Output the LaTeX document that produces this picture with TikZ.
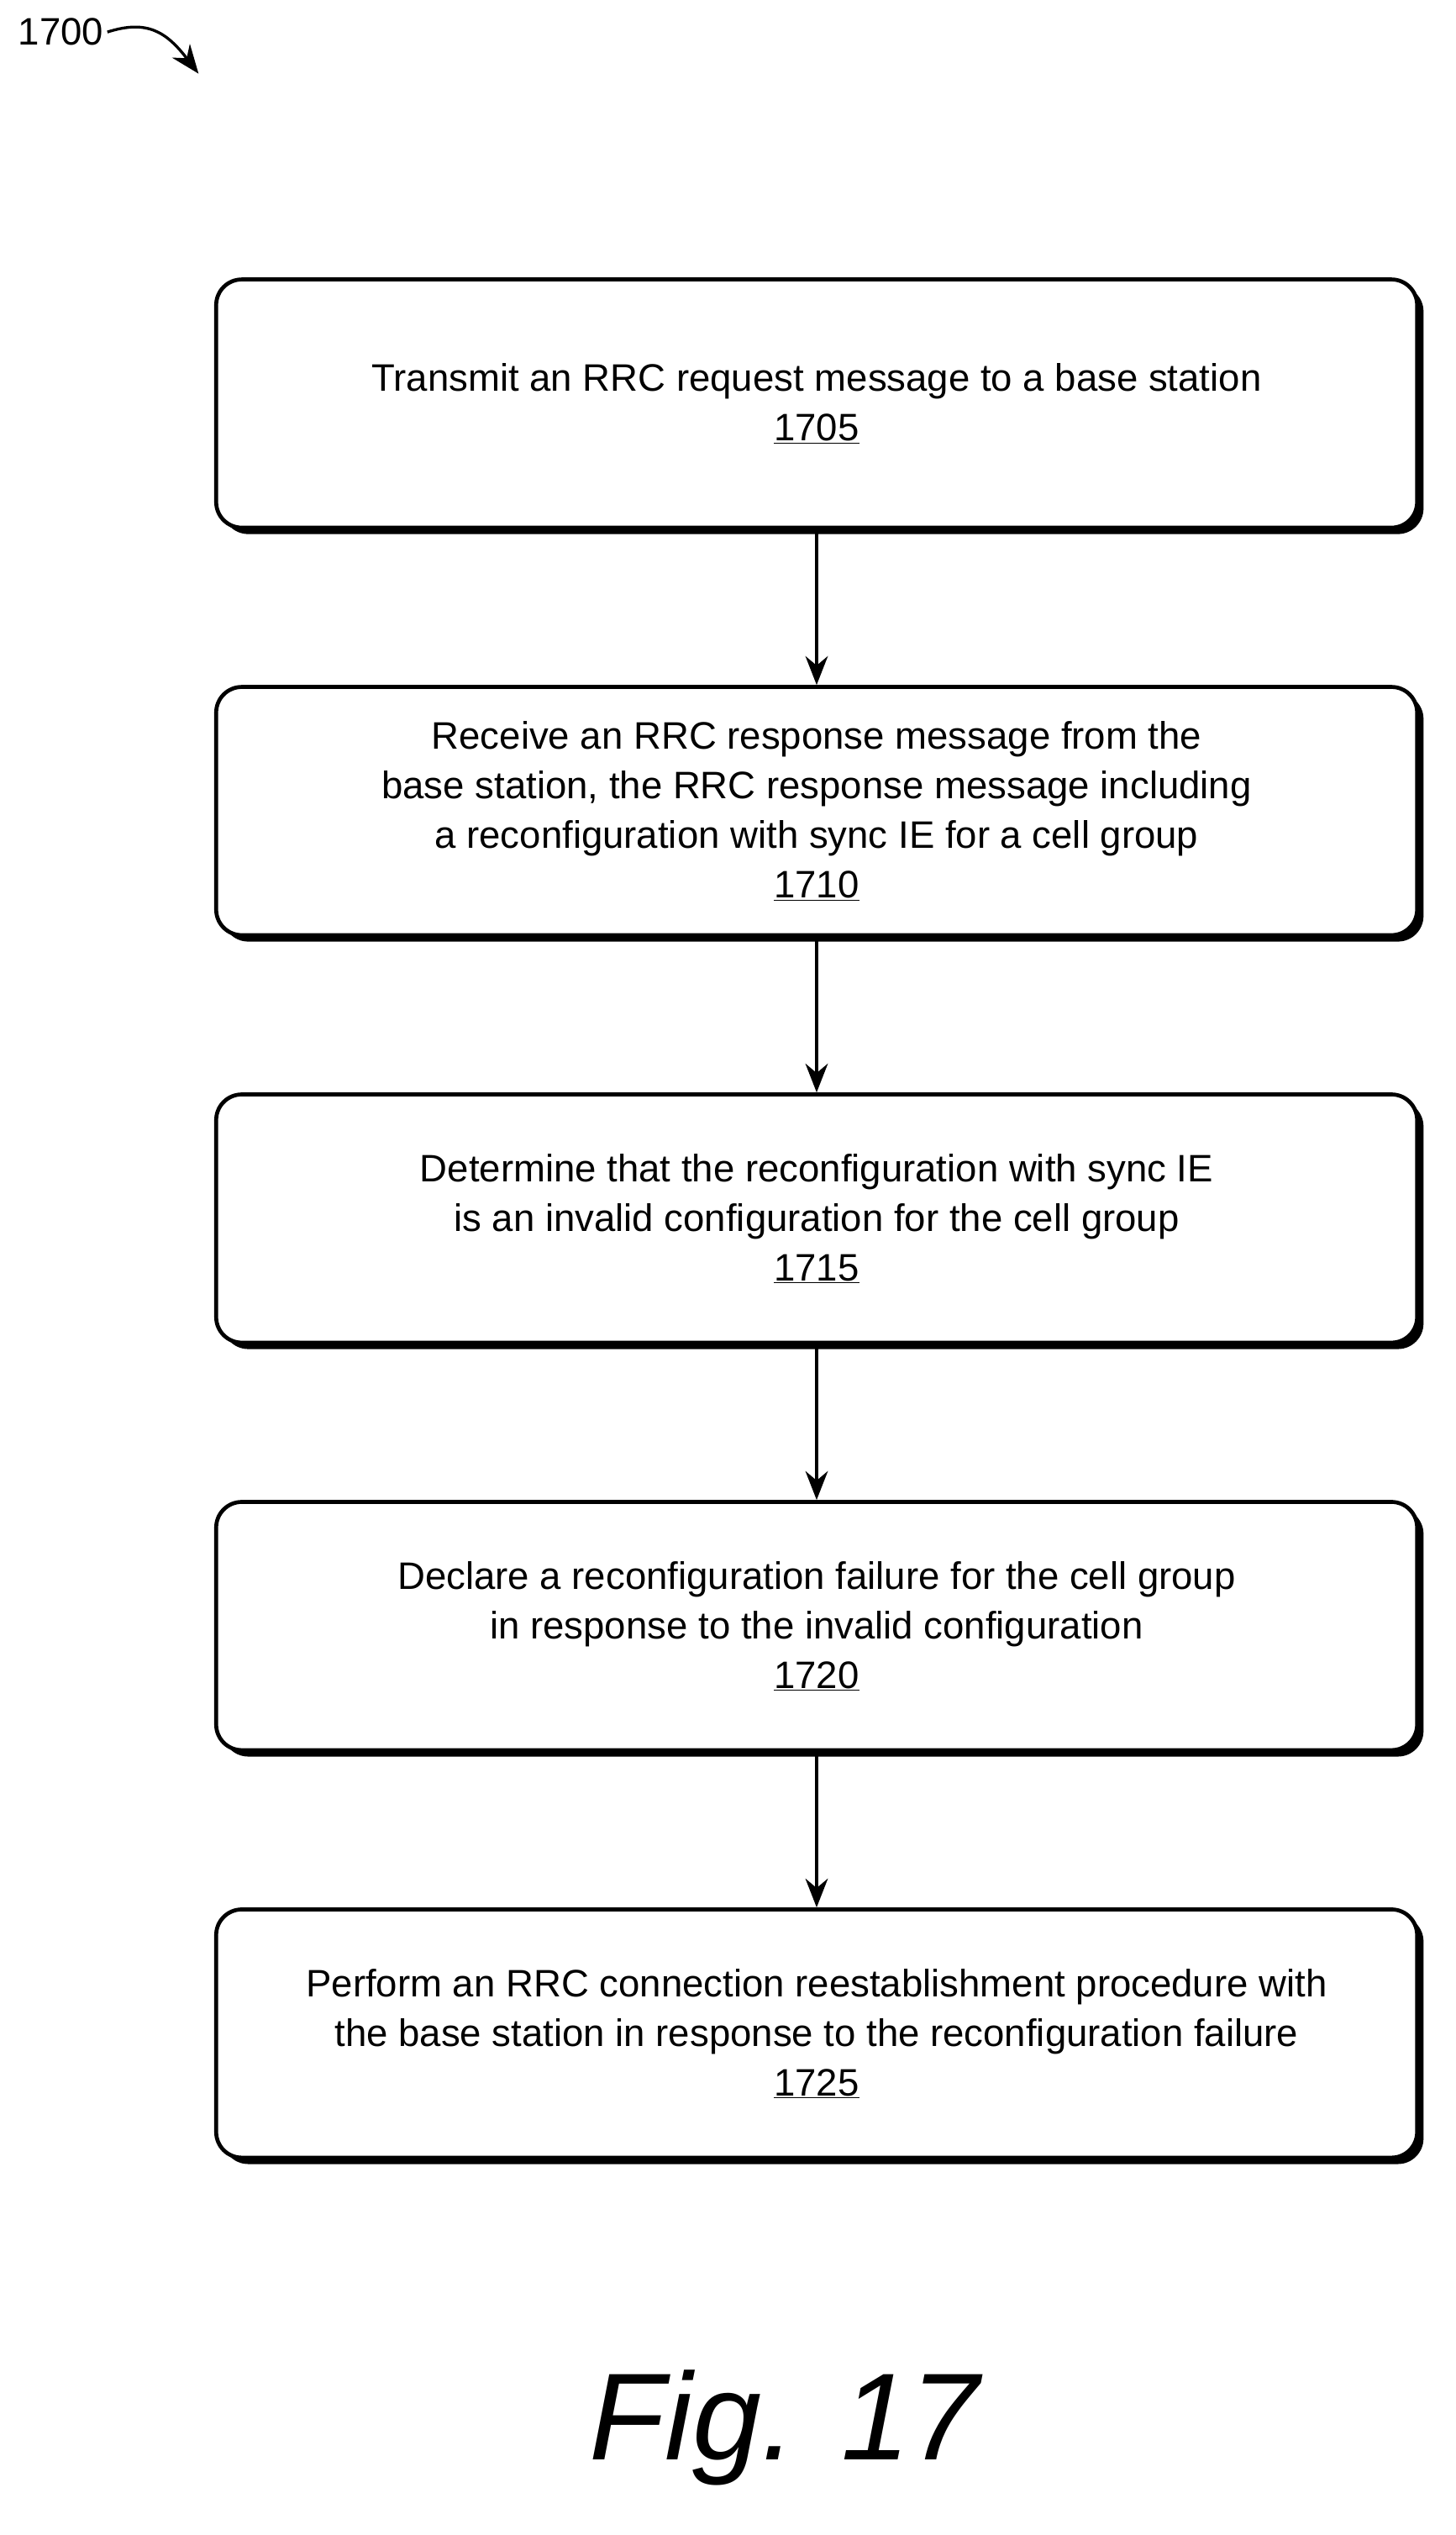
\documentclass[tikz,border=0pt]{standalone}
\usepackage{fontspec}
\setmainfont{Liberation Sans}
\usetikzlibrary{positioning,shadows,arrows.meta}

\tikzset{
	stage/.style = {draw, line width=3.5pt, rounded corners=0.8cm, fill=white,
		minimum width=37.5cm, minimum height=7.75cm, align=center,
		font=\fontsize{34}{44}\selectfont,
		drop shadow={shadow xshift=0.2cm, shadow yshift=-0.2cm, fill=black, opacity=1}},
	flow/.style = {line width=2.5pt, -{Stealth[length=0.9cm, width=0.7cm]}}
}

\begin{document}
\begin{tikzpicture}[node distance=4.85cm]

	\useasboundingbox (0, 0) rectangle (45.45, -79.15);

	% Figure label

	\node (figref) at (1.9, -1.0) {\fontsize{34}{40}\selectfont 1700};
	\coordinate (figtip) at (6.2, -2.3);
	\draw [flow] (figref.east) .. controls (4.6, -0.6) and (5.2, -1.0) .. (figtip);

	% Steps

	\node [stage] (s1705) at (25.5, -12.6) {Transmit an RRC request message to a base station\\\underline{1705}};
	\node [stage, below = of s1705] (s1710) {Receive an RRC response message from the\\base station, the RRC response message including\\a reconfiguration with sync IE for a cell group\\\underline{1710}};
	\node [stage, below = of s1710] (s1715) {Determine that the reconfiguration with sync IE\\is an invalid configuration for the cell group\\\underline{1715}};
	\node [stage, below = of s1715] (s1720) {Declare a reconfiguration failure for the cell group\\in response to the invalid configuration\\\underline{1720}};
	\node [stage, below = of s1720] (s1725) {Perform an RRC connection reestablishment procedure with\\the base station in response to the reconfiguration failure\\\underline{1725}};

	% Arrows

	\draw [flow] (s1705) -- (s1710);
	\draw [flow] (s1710) -- (s1715);
	\draw [flow] (s1715) -- (s1720);
	\draw [flow] (s1720) -- (s1725);

	% Caption

	\node (caption) at (24.5, -75.8) {\fontsize{110}{120}\selectfont\itshape Fig. 17};

\end{tikzpicture}
\end{document}
